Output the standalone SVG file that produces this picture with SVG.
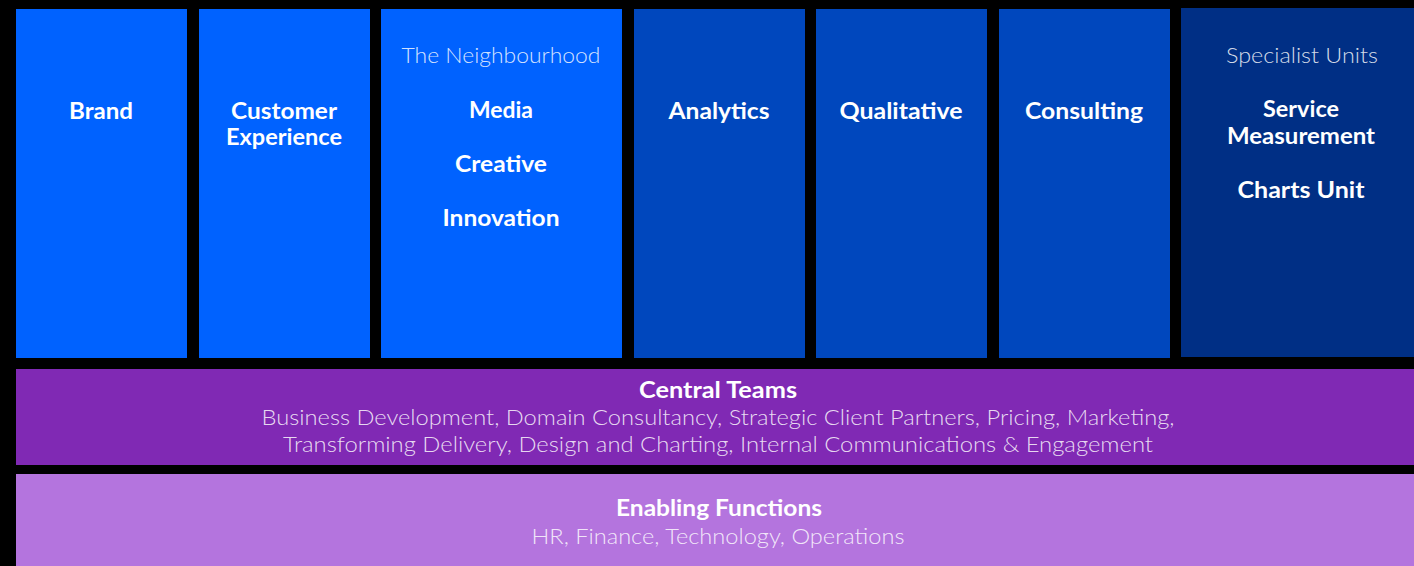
<svg xmlns="http://www.w3.org/2000/svg" width="1414" height="566" viewBox="0 0 1414 566">
  <style>
    .bright { fill: #0062FF; }
    .mid { fill: #0047BD; }
    .dark { fill: #002F85; }
    .central { fill: #8029B4; }
    .enabling { fill: #B474DE; }
    text { font-family: Lato, "Noto Sans", sans-serif; fill: #FFFFFF; text-anchor: middle; font-size: 22px; }
    .b { font-weight: 700; }
    .l { font-weight: 300; }
    .sub { fill: #FFFFFF; fill-opacity: 0.84; }
  </style>
  <rect x="0" y="0" width="1414" height="566" fill="#000000"/>

  <g id="brand">
    <rect class="bright" x="16" y="9" width="171" height="349"/>
    <text class="b" x="101" y="119" textLength="64" lengthAdjust="spacingAndGlyphs">Brand</text>
  </g>

  <g id="customer-experience">
    <rect class="bright" x="199" y="9" width="171" height="349"/>
    <text class="b" x="284" y="119" textLength="106" lengthAdjust="spacingAndGlyphs">Customer</text>
    <text class="b" x="284" y="145" textLength="116" lengthAdjust="spacingAndGlyphs">Experience</text>
  </g>

  <g id="neighbourhood">
    <rect class="bright" x="381" y="9" width="241" height="349"/>
    <text class="l sub" x="501" y="63" textLength="199" lengthAdjust="spacingAndGlyphs">The Neighbourhood</text>
    <text class="b" x="501" y="118" textLength="64" lengthAdjust="spacingAndGlyphs">Media</text>
    <text class="b" x="501" y="172" textLength="92" lengthAdjust="spacingAndGlyphs">Creative</text>
    <text class="b" x="501" y="226" textLength="117" lengthAdjust="spacingAndGlyphs">Innovation</text>
  </g>

  <g id="analytics">
    <rect class="mid" x="634" y="9" width="171" height="349"/>
    <text class="b" x="719" y="119" textLength="101" lengthAdjust="spacingAndGlyphs">Analytics</text>
  </g>

  <g id="qualitative">
    <rect class="mid" x="816" y="9" width="171" height="349"/>
    <text class="b" x="901" y="119" textLength="123" lengthAdjust="spacingAndGlyphs">Qualitative</text>
  </g>

  <g id="consulting">
    <rect class="mid" x="999" y="9" width="171" height="349"/>
    <text class="b" x="1084" y="119" textLength="118" lengthAdjust="spacingAndGlyphs">Consulting</text>
  </g>

  <g id="specialist-units">
    <rect class="dark" x="1181" y="8" width="233" height="349"/>
    <text class="l sub" x="1302" y="63" textLength="152" lengthAdjust="spacingAndGlyphs">Specialist Units</text>
    <text class="b" x="1301" y="117" textLength="76" lengthAdjust="spacingAndGlyphs">Service</text>
    <text class="b" x="1301" y="144" textLength="148" lengthAdjust="spacingAndGlyphs">Measurement</text>
    <text class="b" x="1301" y="198" textLength="127" lengthAdjust="spacingAndGlyphs">Charts Unit</text>
  </g>

  <g id="central-teams">
    <rect class="central" x="16" y="369" width="1398" height="96"/>
    <text class="b" x="718" y="398" textLength="158" lengthAdjust="spacingAndGlyphs">Central Teams</text>
    <text class="l sub" x="718" y="425" textLength="913" lengthAdjust="spacingAndGlyphs">Business Development, Domain Consultancy, Strategic Client Partners, Pricing, Marketing,</text>
    <text class="l sub" x="718" y="452" textLength="870" lengthAdjust="spacingAndGlyphs">Transforming Delivery, Design and Charting, Internal Communications &amp; Engagement</text>
  </g>

  <g id="enabling-functions">
    <rect class="enabling" x="16" y="474" width="1398" height="92"/>
    <text class="b" x="719" y="516" textLength="206" lengthAdjust="spacingAndGlyphs">Enabling Functions</text>
    <text class="l sub" x="718" y="544" textLength="373" lengthAdjust="spacingAndGlyphs">HR, Finance, Technology, Operations</text>
  </g>

  <g id="connectors"/>
</svg>
